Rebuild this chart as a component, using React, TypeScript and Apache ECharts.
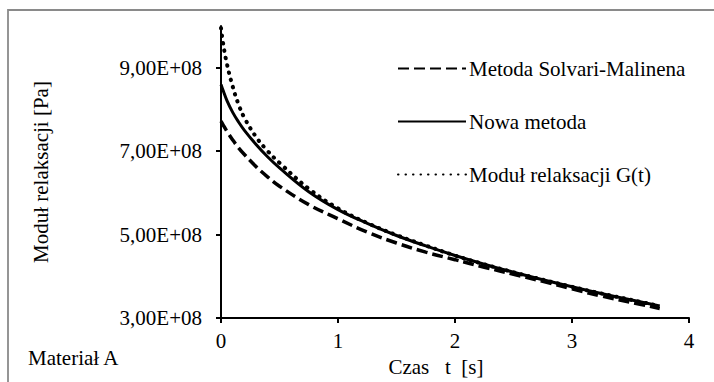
import React, { useEffect, useRef } from "react";
import * as echarts from "echarts";

const timeS = [0, 0.02, 0.05, 0.1, 0.15, 0.2, 0.3, 0.4, 0.5, 0.75, 1, 1.25, 1.5, 1.75, 2, 2.25, 2.5, 2.75, 3, 3.25, 3.5, 3.75];
const solvari = [7.72, 7.62, 7.48, 7.27, 7.08, 6.92, 6.63, 6.38, 6.16, 5.72, 5.38, 5.06, 4.8, 4.58, 4.4, 4.22, 4.05, 3.88, 3.7, 3.53, 3.38, 3.23];
const nowa = [8.6, 8.44, 8.22, 7.93, 7.7, 7.5, 7.16, 6.86, 6.6, 6.03, 5.6, 5.27, 4.98, 4.73, 4.5, 4.29, 4.1, 3.92, 3.75, 3.59, 3.44, 3.29];
const modul = [9.95, 9.55, 9.1, 8.55, 8.12, 7.8, 7.34, 7.0, 6.72, 6.1, 5.63, 5.28, 4.99, 4.74, 4.5, 4.29, 4.1, 3.92, 3.75, 3.59, 3.44, 3.29];
const seriesNames = ["Metoda Solvari-Malinena", "Nowa metoda", "Moduł relaksacji G(t)"];
const yTicks = [3e8, 5e8, 7e8, 9e8];
const scale = 1e8;

const FONT = "Liberation Serif";

export default function App() {
  const ref = useRef<HTMLDivElement>(null);
  useEffect(() => {
    if (!ref.current) return;
    const chart = echarts.init(ref.current, null, { renderer: "svg" });
    const toPairs = (arr: number[]) => arr.map((v, i) => [timeS[i], v * scale]);
    const fmtY = (v: number) => {
      if (!yTicks.some((t) => Math.abs(t - v) < 1)) return "";
      return (v / 1e8).toFixed(2).replace(".", ",") + "E+08";
    };
    chart.setOption({
      animation: false,
      backgroundColor: "#ffffff",
      textStyle: { fontFamily: FONT, color: "#000" },
      grid: { left: 221, right: 25, top: 26, bottom: 62, containLabel: false },
      graphic: [
        {
          type: "rect",
          shape: { x: 8, y: 10, width: 730, height: 400 },
          style: { fill: "none", stroke: "#8a8a8a", lineWidth: 1.8 },
          silent: true,
        },
        {
          type: "text",
          left: 28,
          top: 347,
          style: { text: "Materiał A", fontFamily: FONT, fontSize: 21, fill: "#000" },
        },
      ],
      legend: {
        orient: "vertical",
        left: 392,
        top: 53,
        itemWidth: 68,
        itemHeight: 14,
        itemGap: 32,
        data: seriesNames,
        itemStyle: { opacity: 0 },
        textStyle: { fontFamily: FONT, fontSize: 21, color: "#000", lineHeight: 20, padding: [0, 0, 0, -2] },
      },
      xAxis: {
        type: "value",
        min: 0,
        max: 4,
        interval: 1,
        name: "Czas   t  [s]",
        nameLocation: "middle",
        nameGap: 36,
        nameTextStyle: { fontFamily: FONT, fontSize: 21, color: "#000", padding: [0, 38, 0, 0] },
        axisLine: { show: true, onZero: false, lineStyle: { color: "#000", width: 2 } },
        axisTick: { show: true, inside: false, length: 5, lineStyle: { color: "#000", width: 2 } },
        axisLabel: { fontFamily: FONT, fontSize: 21, color: "#000", margin: 12 },
        splitLine: { show: false },
      },
      yAxis: {
        type: "value",
        min: 3e8,
        max: 1e9,
        interval: 2e8,
        name: "Moduł relaksacji [Pa]",
        nameLocation: "middle",
        nameGap: 170,
        nameTextStyle: { fontFamily: FONT, fontSize: 21, color: "#000" },
        axisLine: { show: true, lineStyle: { color: "#000", width: 2 } },
        axisTick: { show: true, inside: false, length: 5, lineStyle: { color: "#000", width: 2 } },
        axisLabel: { fontFamily: FONT, fontSize: 21, color: "#000", margin: 19, formatter: fmtY, showMaxLabel: false },
        splitLine: { show: false },
      },
      series: [
        {
          name: seriesNames[0],
          type: "line",
          smooth: 0.4,
          symbol: "none",
          data: toPairs(solvari),
          lineStyle: { color: "#000", width: 3.5, type: [11, 5] },
          itemStyle: { color: "#000" },
          z: 3,
        },
        {
          name: seriesNames[1],
          type: "line",
          smooth: 0.4,
          symbol: "none",
          data: toPairs(nowa),
          lineStyle: { color: "#000", width: 3 },
          itemStyle: { color: "#000" },
          z: 4,
        },
        {
          name: seriesNames[2],
          type: "line",
          smooth: 0.4,
          symbol: "none",
          data: toPairs(modul),
          lineStyle: { color: "#000", width: 4, type: [0.5, 7], cap: "round" },
          itemStyle: { color: "#000" },
          z: 5,
        },
      ],
    });
    return () => chart.dispose();
  }, []);
  return <div ref={ref} style={{ position: "fixed", left: 0, top: 0, width: 714, height: 382 }} />;
}
